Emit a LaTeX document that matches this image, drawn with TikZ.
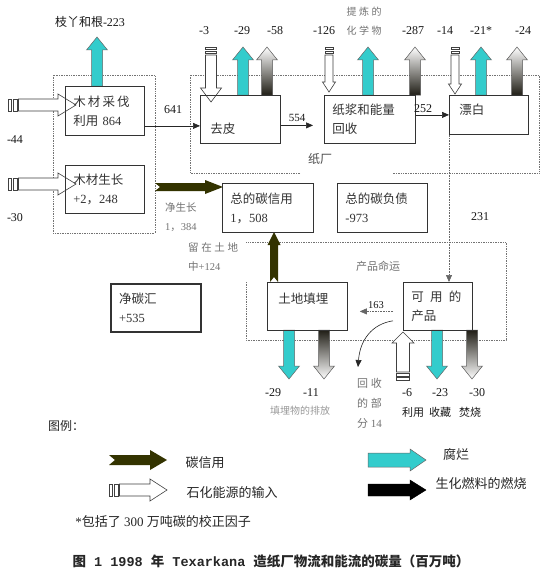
\documentclass[tikz,border=0pt]{standalone}
\usepackage{fontspec}
\setmainfont{Liberation Serif}
\newfontfamily\cjkfont{Noto Sans CJK SC}
\newfontfamily\capmono{Liberation Mono}
\usetikzlibrary{arrows.meta}

\definecolor{decayc}{RGB}{51,204,204}
\definecolor{creditc}{RGB}{51,51,0}
\definecolor{burnc}{RGB}{32,30,22}

% Chinese characters in the CJK face, the rest in the serif
\chardef\hanclass=7
\newcount\hancode
\hancode="3000
\loop \XeTeXcharclass\hancode=\hanclass \advance\hancode by 1 \ifnum\hancode<"3040 \repeat
\hancode="4E00
\loop \XeTeXcharclass\hancode=\hanclass \advance\hancode by 1 \ifnum\hancode<"A000 \repeat
\hancode="FF00
\loop \XeTeXcharclass\hancode=\hanclass \advance\hancode by 1 \ifnum\hancode<"FFF0 \repeat
\def\latfont{\rmfamily}
\XeTeXinterchartoks 0 \hanclass = {\cjkfont}
\XeTeXinterchartoks 4095 \hanclass = {\cjkfont}
\XeTeXinterchartoks \hanclass 0 = {\latfont}
\XeTeXinterchartoks \hanclass 4095 = {\latfont}
\XeTeXinterchartokenstate=1

\tikzset{
  box/.style={draw=black!80, line width=0.8pt, anchor=north west, align=left,
    inner xsep=8pt, inner ysep=0pt, text=black!80, font=\fontsize{12.5}{19}\selectfont},
  num/.style={inner sep=0pt, text=black!90, font=\fontsize{12}{14}\selectfont},
  faint/.style={inner sep=0pt, text=black!55, align=left, font=\fontsize{10.5}{19}\selectfont},
  legendtxt/.style={inner sep=0pt, text=black!85, font=\fontsize{13}{16}\selectfont},
  region/.style={densely dotted, black!55, line width=0.7pt},
  flow/.style={black!85, line width=0.6pt, -{Triangle[length=7pt,width=6pt]}},
  decay/.style={fill=decayc, draw=black!60, line width=0.5pt},
  burnup/.style={top color=white, bottom color=burnc, draw=black!65, line width=0.5pt},
  burndown/.style={top color=burnc, bottom color=white, draw=black!65, line width=0.5pt},
  fossil/.style={fill=white, draw=black!75, line width=0.6pt},
  credit/.style={fill=creditc}
}

% block arrows: style, x, tail y, tip y
\newcommand{\blockup}[4]{%
  \draw[#1] (#2-5.5,#3) -- (#2-5.5,#4+13) -- (#2-10.5,#4+13) -- (#2,#4)
    -- (#2+10.5,#4+13) -- (#2+5.5,#4+13) -- (#2+5.5,#3) -- cycle;}
\newcommand{\blockdown}[4]{%
  \draw[#1] (#2-5.5,#3) -- (#2-5.5,#4-13) -- (#2-10.5,#4-13) -- (#2,#4)
    -- (#2+10.5,#4-13) -- (#2+5.5,#4-13) -- (#2+5.5,#3) -- cycle;}
% style, tail x, tip x, y, shaft half, head half, head length
\newcommand{\blockright}[7]{%
  \draw[#1] (#2,#4-#5) -- (#3-#7,#4-#5) -- (#3-#7,#4-#6) -- (#3,#4)
    -- (#3-#7,#4+#6) -- (#3-#7,#4+#5) -- (#2,#4+#5) -- cycle;}
% notched credit arrows
\newcommand{\creditright}[6]{%
  \fill[credit] (#1,#3-#4) -- (#2-#6,#3-#4) -- (#2-#6,#3-#5) -- (#2,#3)
    -- (#2-#6,#3+#5) -- (#2-#6,#3+#4) -- (#1,#3+#4) -- (#1+#4+1,#3) -- cycle;}
\newcommand{\creditup}[6]{%
  \fill[credit] (#1-#4,#2) -- (#1-#4,#3+#6) -- (#1-#5,#3+#6) -- (#1,#3)
    -- (#1+#5,#3+#6) -- (#1+#4,#3+#6) -- (#1+#4,#2) -- (#1,#2-#4-1) -- cycle;}
% open fossil arrows with the small bars at the tail
\newcommand{\fossilright}[6]{%
  \draw[fossil] (#1,#3-#4) rectangle (#1+3.5,#3+#4) (#1+5,#3-#4) rectangle (#1+9,#3+#4);
  \draw[fossil] (#1+10.5,#3-#4) -- (#2-#6,#3-#4) -- (#2-#6,#3-#5) -- (#2,#3)
    -- (#2-#6,#3+#5) -- (#2-#6,#3+#4) -- (#1+10.5,#3+#4) -- cycle;}
\newcommand{\fossildown}[6]{%
  \draw[fossil] (#1-#4,#2) rectangle (#1+#4,#2+2.5) (#1-#4,#2+4) rectangle (#1+#4,#2+6.5);
  \draw[fossil] (#1-#4,#2+8) -- (#1-#4,#3-#6) -- (#1-#5,#3-#6) -- (#1,#3)
    -- (#1+#5,#3-#6) -- (#1+#4,#3-#6) -- (#1+#4,#2+8) -- cycle;}
\newcommand{\fossilup}[6]{%
  \draw[fossil] (#1-#4,#2) rectangle (#1+#4,#2-2.5) (#1-#4,#2-4) rectangle (#1+#4,#2-6.5);
  \draw[fossil] (#1-#4,#2-8) -- (#1-#4,#3+#6) -- (#1-#5,#3+#6) -- (#1,#3)
    -- (#1+#5,#3+#6) -- (#1+#4,#3+#6) -- (#1+#4,#2-8) -- cycle;}

\begin{document}
\begin{tikzpicture}[x=1pt, y=-1pt]
\useasboundingbox[fill=white] (0,0) rectangle (552,586);

% forest, mill and product regions
\draw[region] (53,75) rectangle (155,233);
\draw[region] (300,173) -- (190,173) -- (190,75) -- (539,75) -- (539,173) -- (393,173);
\draw[region] (246,282) -- (246,340) -- (506,340) -- (506,242) -- (246,242);

% decay
\blockup{decay}{97}{86}{37}
\blockup{decay}{243}{95}{47}
\blockup{decay}{368}{95}{47}
\blockup{decay}{481}{95}{47}
\blockdown{decay}{289}{330}{379}
\blockdown{decay}{437}{330}{379}
% biofuel burning
\blockup{burnup}{267}{95}{47}
\blockup{burnup}{415}{95}{47}
\blockup{burnup}{517}{95}{47}
\blockdown{burndown}{324}{330}{379}
\blockdown{burndown}{472}{330}{379}
% fossil inputs
\fossilright{8}{76}{105}{6}{11}{18}
\fossilright{8}{76}{184}{6}{11}{18}
\fossildown{211}{47}{102}{5.5}{10.5}{14}
\fossildown{329}{47}{92}{4}{6.5}{10}
\fossildown{455}{47}{94}{4}{6.5}{10}
\fossilup{403}{380}{332}{6.5}{11}{11}
% carbon credit
\creditright{155}{223}{187}{4}{7}{18}
\creditup{274}{282}{232}{4}{6.5}{13}

\node[box, text width=63pt, minimum height=49pt] (fell) at (65,86) {木\,材\,采\,伐\\利用 864};
\node[box, text width=63pt, minimum height=48pt] (grow) at (65,165) {木材生长\\+2，248};
\node[box, text width=64pt, minimum height=48pt] (qupi) at (200,95) {\smash{\raisebox{-14pt}{\hspace{2pt}去皮}}};
\node[box, text width=75pt, minimum height=48pt] (pulp) at (324,95) {纸浆和能量\\回收};
\node[box, text width=63pt, minimum height=39pt] (bleach) at (449,95) {\smash{\hspace{2pt}漂白}};
\node[box, text width=75pt, minimum height=49pt] (credit) at (222,183) {总的碳信用\\1，508};
\node[box, text width=74pt, minimum height=49pt] (debt) at (337,183) {总的碳负债\\-973};
\node[box, text width=74pt, minimum height=48pt, line width=2pt] (sink) at (110,283) {净碳汇\\+535};
\node[box, text width=64pt, minimum height=48pt] (landfill) at (267,282) {\smash{\raisebox{3pt}{\hspace{3pt}土地填埋}}};
\node[box, text width=53pt, minimum height=48pt] (product) at (403,282) {可\enspace 用\enspace 的\\产品};

% material flows
\draw[flow] ([yshift=-15pt]fell.east) -- ([yshift=-15pt]fell.east -| qupi.west);
\draw[flow, shorten >=11pt] ([yshift=-6pt]qupi.east) -- ([yshift=-6pt]qupi.east -| pulp.west);
\draw[flow] (bleach.west -| pulp.east) -- (bleach.west);
\draw[flow, densely dotted, black!60] (bleach.south west) -- (bleach.south west |- product.north);
\draw[flow, densely dotted, black!60, shorten <=10pt, shorten >=12pt]
  ([yshift=-5pt]product.west) -- ([yshift=-5pt]product.west -| landfill.east);
\coordinate (recyc) at (358,367);
\draw[black!85, line width=0.6pt, -{Triangle[length=7pt,width=6pt]}]
  ([xshift=-10pt,yshift=10pt]product.south west) .. controls (372,324) and (360,340) .. (recyc);

% labels
\node[num] (lbranch) at (90,22) {枝丫和根-223};
\node[num] (lm3) at (204,31) {-3};
\node[num] (lm29) at (242,31) {-29};
\node[num] (lm58) at (275,31) {-58};
\node[num] (lm126) at (324,31) {-126};
\node[faint, align=center, font=\fontsize{10}{19}\selectfont] (lchem) at (364,21.5) {提 炼 的\\化 学 物};
\node[num] (lm287) at (413,31) {-287};
\node[num] (lm14) at (445,31) {-14};
\node[num] (lm21) at (481,31) {-21*};
\node[num] (lm24) at (523,31) {-24};
\node[num] (lm44) at (15,140) {-44};
\node[num] (lm30) at (15,218) {-30};
\node[num] (l641) at (173,110) {641};
\node[num, font=\fontsize{11}{13}\selectfont] (l554) at (297,118) {554};
\node[num] (l252) at (423,109) {252};
\node[num, text=black!70] (lmill) at (320,159) {纸厂};
\node[faint, anchor=west] (lgrowth) at (165,217.5) {净生长\\1，384};
\node[faint, anchor=west] (lsoil) at (188,257.5) {留 在 土 地\\中+124};
\node[num] (l231) at (480,217) {231};
\node[faint, font=\fontsize{11}{14}\selectfont] (lfate) at (378,266) {产品命运};
\node[num, font=\fontsize{10.5}{13}\selectfont] (l163) at (376,305) {163};
\node[faint, anchor=west, font=\fontsize{11}{20}\selectfont] (lrecyc) at (357,403) {回 收\\的 部\\分 14};
\node[num] (lm29b) at (273,393) {-29};
\node[num] (lm11) at (311,393) {-11};
\node[faint, text=black!40, font=\fontsize{10}{12}\selectfont] (lland) at (300,411) {填埋物的排放};
\node[num] (lm6) at (407,393) {-6};
\node[num] (lm23) at (440,393) {-23};
\node[num] (lm30b) at (477,393) {-30};
\node[num, font=\fontsize{11}{13}\selectfont] (luse) at (413,412) {利用};
\node[num, font=\fontsize{11}{13}\selectfont] (lstore) at (440,412) {收藏};
\node[num, font=\fontsize{11}{13}\selectfont] (lburn) at (470,412) {焚烧};

% legend
\node[legendtxt, font=\fontsize{12}{14}\selectfont] (lkey) at (66,426) {图例：};
\creditright{109}{167}{460}{5}{10}{17}
\node[legendtxt] (kcredit) at (205,463) {碳信用};
\fossilright{109}{167}{490}{6}{11}{17}
\node[legendtxt] (kfossil) at (232,493) {石化能源的输入};
\blockright{decay}{368}{426}{460}{7}{11}{16}
\node[legendtxt] (kdecay) at (456,455) {腐烂};
\blockright{fill=black}{368}{426}{490}{6}{10}{16}
\node[legendtxt] (kbio) at (481,484) {生化燃料的燃烧};
\node[legendtxt] (lnote) at (163,522) {*包括了 300 万吨碳的校正因子};
\node[legendtxt, font=\fontsize{13.5}{16}\selectfont\bfseries] (caption) at (271,561)
  {\def\latfont{\capmono}图 1 1998 年 Texarkana 造纸厂物流和能流的碳量（百万吨）};
\end{tikzpicture}
\end{document}
